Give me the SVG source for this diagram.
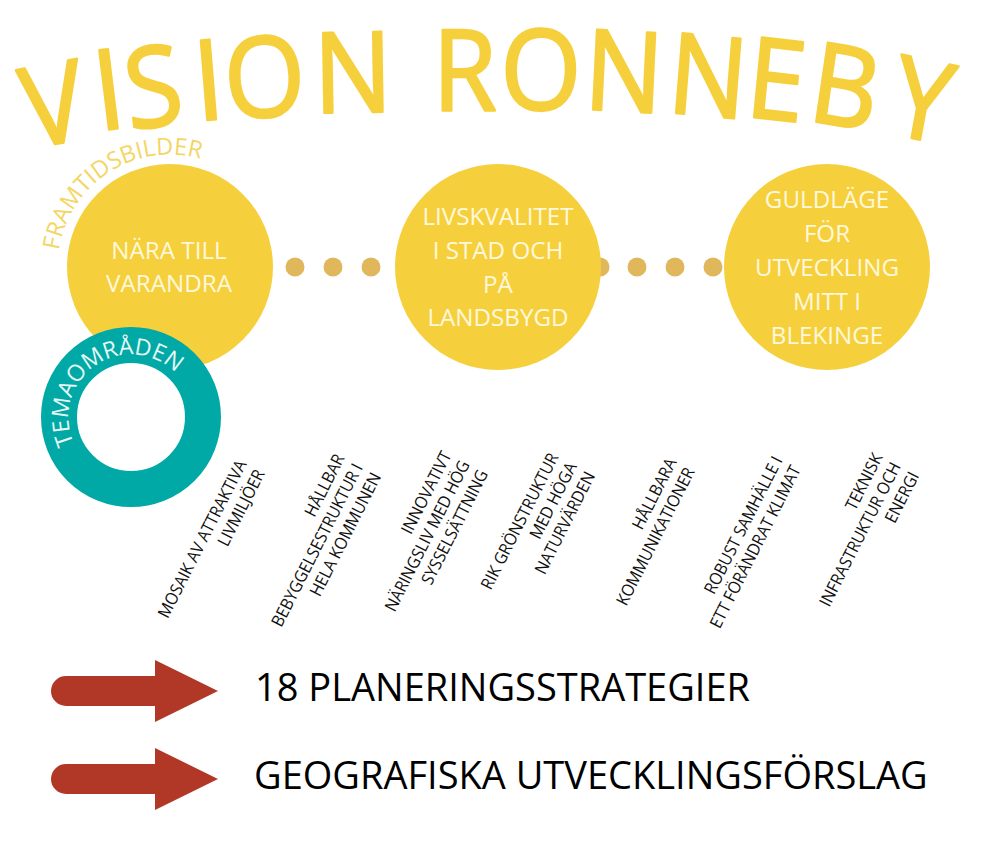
<svg xmlns="http://www.w3.org/2000/svg" width="997" height="845" viewBox="0 0 997 845">
<style>
text{font-family:"Open Sans","Liberation Sans",sans-serif}
.y{fill:#F6D03C}
.d{fill:#E0B75B}
.c{fill:#FFF8DC;font-size:24.2px;text-anchor:middle}
.l{fill:#111;font-size:17px;text-anchor:end}
.a{fill:#B13726}
.b{fill:#000;font-size:38px}
</style>
<defs>
<path id="arcF" d="M59 250.500A112 112 0 0 1 217 165"/>
<path id="arcT" d="M74 443.600A63 63 0 0 1 185.600 385.500"/>
</defs>
<g id="title"><text class="y" font-size="112" stroke="#F6D03C" stroke-width="2.5" stroke-linejoin="round" transform="scale(.93 1)" x="31 106.500 139 212 243 338 380 465 537.500 627 716 800 867 954" y="149 131 130 121 119 113 110 110 109 109 112 116 120 133" rotate="-10 -7.5 -7 -5 -3 -1 0 0 1 3 5 6 9 11">VISION RONNEBY</text></g>
<g id="connectors">
<circle class="d" cx="295" cy="267" r="9.500"/><circle class="d" cx="333" cy="267" r="9.500"/><circle class="d" cx="371" cy="267" r="9.500"/>
<circle class="d" cx="600" cy="267" r="9.500"/><circle class="d" cx="637" cy="267" r="9.500"/><circle class="d" cx="675" cy="267" r="9.500"/><circle class="d" cx="713" cy="267" r="9.500"/>
</g>
<g id="node-nara"><circle class="y" cx="170" cy="267" r="103"/>
<text class="c"><tspan x="169" y="259">NÄRA TILL</tspan><tspan x="169" y="292">VARANDRA</tspan></text></g>
<g id="node-framtidsbilder"><text fill="#F3D663" font-size="23.5"><textPath href="#arcF">FRAMTIDSBILDER</textPath></text></g>
<g id="node-livskvalitet"><circle class="y" cx="498" cy="267" r="103"/>
<text class="c"><tspan x="498" y="225">LIVSKVALITET</tspan><tspan x="498" y="259">I STAD OCH</tspan><tspan x="498" y="293">PÅ</tspan><tspan x="498" y="326">LANDSBYGD</tspan></text></g>
<g id="node-guldlage"><circle class="y" cx="827" cy="267" r="103"/>
<text class="c"><tspan x="827" y="208">GULDLÄGE</tspan><tspan x="827" y="242">FÖR</tspan><tspan x="827" y="276">UTVECKLING</tspan><tspan x="827" y="310">MITT I</tspan><tspan x="827" y="344">BLEKINGE</tspan></text></g>
<g id="node-temaomraden"><circle cx="131" cy="417" r="72" fill="#fff" stroke="#00A9A5" stroke-width="36"/>
<text fill="#E6F7F6" font-size="23"><textPath href="#arcT">TEMAOMRÅDEN</textPath></text></g>
<g id="label-1"><text class="l" transform="translate(247 464) rotate(-63) scale(.92 1)"><tspan x="0" y="0">MOSAIK AV ATTRAKTIVA</tspan><tspan x="0" y="20.500">LIVMILJÖER</tspan></text></g>
<g id="label-2"><text class="l" transform="translate(345 458) rotate(-63) scale(.92 1)"><tspan x="0" y="0">HÅLLBAR</tspan><tspan x="0" y="20.500">BEBYGGELSESTRUKTUR I</tspan><tspan x="0" y="41">HELA KOMMUNEN</tspan></text></g>
<g id="label-3"><text class="l" transform="translate(452 455) rotate(-63) scale(.92 1)"><tspan x="0" y="0">INNOVATIVT</tspan><tspan x="0" y="20.500">NÄRINGSLIV MED HÖG</tspan><tspan x="0" y="41">SYSSELSÄTTNING</tspan></text></g>
<g id="label-4"><text class="l" transform="translate(559 457) rotate(-63) scale(.92 1)"><tspan x="0" y="0">RIK GRÖNSTRUKTUR</tspan><tspan x="0" y="20.500">MED HÖGA</tspan><tspan x="0" y="41">NATURVÄRDEN</tspan></text></g>
<g id="label-5"><text class="l" transform="translate(677 462) rotate(-63) scale(.92 1)"><tspan x="0" y="0">HÅLLBARA</tspan><tspan x="0" y="20.500">KOMMUNIKATIONER</tspan></text></g>
<g id="label-6"><text class="l" transform="translate(783 460) rotate(-63) scale(.92 1)"><tspan x="0" y="0">ROBUST SAMHÄLLE I</tspan><tspan x="0" y="20.500">ETT FÖRÄNDRAT KLIMAT</tspan></text></g>
<g id="label-7"><text class="l" transform="translate(883 457) rotate(-63) scale(.92 1)"><tspan x="0" y="0">TEKNISK</tspan><tspan x="0" y="20.500">INFRASTRUKTUR OCH</tspan><tspan x="0" y="41">ENERGI</tspan></text></g>
<g id="node-strategier"><path class="a" d="M66 676H155V660L218 691L155 722V706H66A15 15 0 0 1 66 676Z"/>
<text class="b" x="255" y="701">18 PLANERINGSSTRATEGIER</text></g>
<g id="node-forslag"><path class="a" d="M66 764H155V748L218 779L155 810V794H66A15 15 0 0 1 66 764Z"/>
<text class="b" x="254" y="789">GEOGRAFISKA UTVECKLINGSFÖRSLAG</text></g>
</svg>
